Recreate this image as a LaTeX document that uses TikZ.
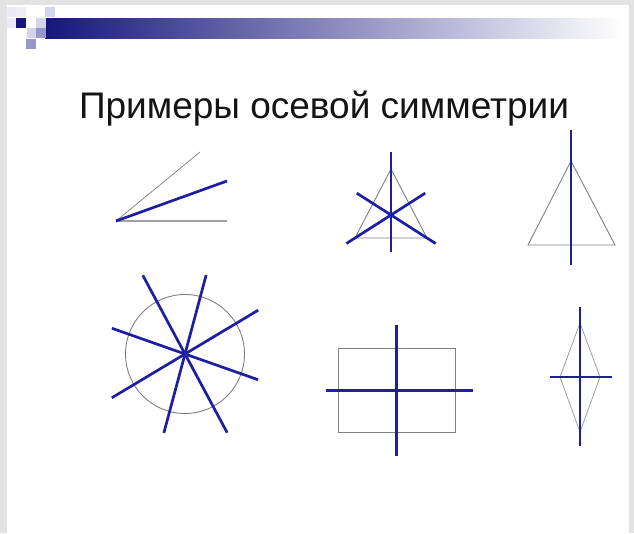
\documentclass[tikz,border=0pt]{standalone}
\usepackage{fontspec}
\setmainfont{Liberation Sans}
\usepackage{tikz}
\usetikzlibrary{calc}
\definecolor{axisblue}{HTML}{1E1EA2}
\definecolor{edgegray}{HTML}{808080}
\definecolor{framegray}{HTML}{E3E3E3}
\definecolor{barnavy}{HTML}{16167E}
\definecolor{barmid}{HTML}{8E8EC6}
\definecolor{pixlight}{HTML}{D4D4EA}
\definecolor{pixmid}{HTML}{9898C8}
\tikzset{
  % axes of symmetry — thick blue
  symaxis/.style={draw=axisblue, line width=2.7pt},
  % outlines of the figures
  edge/.style={draw=edgegray, line width=0.9pt},
  thinedge/.style={draw=edgegray!85, line width=0.7pt},
  % slide title
  slidetitle/.style={font=\fontsize{37}{41}\selectfont, text=black!92},
}
\begin{document}
\begin{tikzpicture}[x=1pt, y=-1pt]
  \useasboundingbox (0,0) rectangle (634,533);
  % slide frame
  \fill[framegray] (0,0) rectangle (634,533);
  \fill[white] (7,5) rectangle (629,533);
  % header bar and pixel squares
  \shade[left color=barnavy, middle color=barmid, right color=white]
    (45,18) rectangle (623,38);
  \foreach \x/\y/\c in {7/7/pixlight!50, 16/7/pixlight!40, 7/18/pixlight!50,
      16/18/barnavy, 45/7/pixlight, 36/18/pixlight, 27/28/pixlight,
      36/28/pixmid, 26/39/pixmid}
    \fill[\c] (\x,\y) rectangle ++(10,10);

  % title
  \node[slidetitle, anchor=base] (title) at (324,118)
    {Примеры осевой симметрии};

  % angle with its bisector
  \coordinate (v) at (116,221);
  \coordinate (ray1) at (200,152);
  \coordinate (ray2) at (227,221);
  \coordinate (bis) at (227,181);
  \draw[edge, line width=0.7pt] (v) -- (ray1);
  \draw[edge, draw=edgegray!75, line width=1.6pt] (v) -- (ray2);
  \draw[symaxis] (v) -- (bis);

  % equilateral triangle, three axes
  \coordinate (A) at (391,169);
  \coordinate (B) at (355,238);
  \coordinate (C) at (427,238);
  \coordinate (O) at (391,215);
  \draw[edge] (A) -- (B) -- (C) -- cycle;
  \foreach \v/\s/\e in {A/-0.37/1.8, B/-0.24/1.95, C/-0.24/1.95}
    \draw[symaxis] ($(\v)!\s!(O)$) -- ($(\v)!\e!(O)$);

  % isosceles triangle, one axis
  \coordinate (P) at (571,161);
  \coordinate (Q) at (528,245);
  \coordinate (R) at (615,245);
  \draw[edge] (P) -- (Q) -- (R) -- cycle;
  \coordinate (p1) at (571,130);
  \coordinate (p2) at (571,265);
  \draw[symaxis] (p1) -- (p2);

  % circle, any diameter
  \coordinate (c) at (185,354);
  \draw[edge] (c) circle[radius=59.5];
  \foreach \ang/\len in {118.2/89.3, 75/81.7, 30.9/85.3, -19.4/77.5}
    \draw[symaxis] ($(c)+(-\ang:\len)$) -- ($(c)+(180-\ang:\len)$);

  % rectangle, two axes
  \node[edge, minimum width=116.7pt, minimum height=84.4pt, inner sep=0pt]
    (rect) at (396.7,390.5) {};
  \draw[symaxis] ($(rect.north)+(0,-23.3)$) -- ($(rect.south)+(0,23.3)$);
  \draw[symaxis] ($(rect.west)+(-12.3,0)$) -- ($(rect.east)+(17.7,0)$);

  % rhombus, two axes
  \coordinate (rt) at (580,323);
  \coordinate (rl) at (560,377);
  \coordinate (rb) at (580,432);
  \coordinate (rr) at (600,377);
  \draw[thinedge] (rt) -- (rl) -- (rb) -- (rr) -- cycle;
  \draw[symaxis] ($(rt)+(0,-16)$) -- ($(rb)+(0,14)$);
  \draw[symaxis] ($(rl)+(-10,0)$) -- ($(rr)+(12,0)$);
\end{tikzpicture}
\end{document}
